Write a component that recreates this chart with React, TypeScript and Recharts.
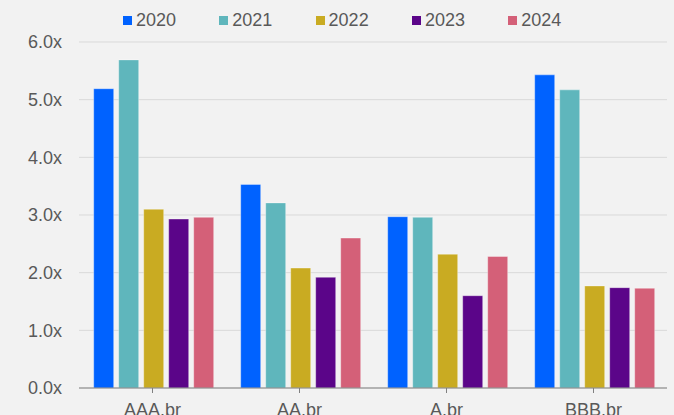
import React from "react";
import { BarChart, Bar, XAxis, YAxis, CartesianGrid, Legend } from "recharts";

const categories = ["AAA.br", "AA.br", "A.br", "BBB.br"];
const years = ["2020", "2021", "2022", "2023", "2024"];
const v2020 = [5.19, 3.53, 2.97, 5.43];
const v2021 = [5.69, 3.21, 2.96, 5.17];
const v2022 = [3.1, 2.08, 2.32, 1.77];
const v2023 = [2.93, 1.92, 1.6, 1.74];
const v2024 = [2.96, 2.6, 2.28, 1.73];
const yTicks = [0, 1, 2, 3, 4, 5, 6];
const colors = ["#0062FF", "#5FB6BC", "#C9AB22", "#5B0589", "#D46078"];

const seriesValues = [v2020, v2021, v2022, v2023, v2024];
const data = categories.map((c, i) => {
  const row: Record<string, string | number> = { name: c };
  years.forEach((y, k) => {
    row[y] = seriesValues[k][i];
  });
  return row;
});

const font = "'Liberation Sans', Arial, sans-serif";
const textColor = "#595959";

const LegendContent = (props: any) => {
  const payload = props.payload || [];
  return (
    <div style={{ display: "flex", height: 0, overflow: "visible", fontFamily: font }}>
      {payload.map((p: any) => (
        <div
          key={p.value}
          style={{
            width: 96.3,
            display: "flex",
            alignItems: "center",
            height: 24,
            flex: "0 0 auto",
          }}
        >
          <span style={{ width: 9, height: 9, background: p.color, display: "inline-block", marginRight: 4 }} />
          <span style={{ fontSize: 18, color: textColor, lineHeight: "24px" }}>{p.value}</span>
        </div>
      ))}
    </div>
  );
};

export default function App() {
  return (
    <div style={{ position: "fixed", left: 0, top: 0, width: 674, height: 415, background: "#f2f2f2", overflow: "hidden" }}>
      <BarChart
        width={674}
        height={415}
        data={data}
        margin={{ top: 42, right: 7, bottom: 0, left: 0 }}
        barCategoryGap="10%"
        barGap={5}
      >
        <CartesianGrid vertical={false} stroke="#d9d9d9" strokeWidth={1} />
        <XAxis
          dataKey="name"
          height={27}
          axisLine={{ stroke: "#808080" }}
          tickLine={{ stroke: "#808080" }}
          tickSize={5}
          tickMargin={10}
          tick={{ fill: textColor, fontSize: 18, fontFamily: font }}
          interval={0}
        />
        <YAxis
          width={79}
          domain={[0, 6]}
          ticks={yTicks}
          tickFormatter={(v: number) => `${v.toFixed(1)}x`}
          axisLine={false}
          tickLine={false}
          tickSize={0}
          tickMargin={17}
          tick={{ fill: textColor, fontSize: 18, fontFamily: font }}
          interval={0}
        />
        <Legend
          verticalAlign="top"
          align="left"
          content={<LegendContent />}
          wrapperStyle={{ top: 8, left: 123, width: 500, height: 0 }}
        />
        {years.map((y, k) => (
          <Bar
            key={y}
            dataKey={y}
            fill={colors[k]}
            stroke="#ffffff"
            strokeOpacity={0.35}
            strokeWidth={1}
            isAnimationActive={false}
          />
        ))}
      </BarChart>
    </div>
  );
}
